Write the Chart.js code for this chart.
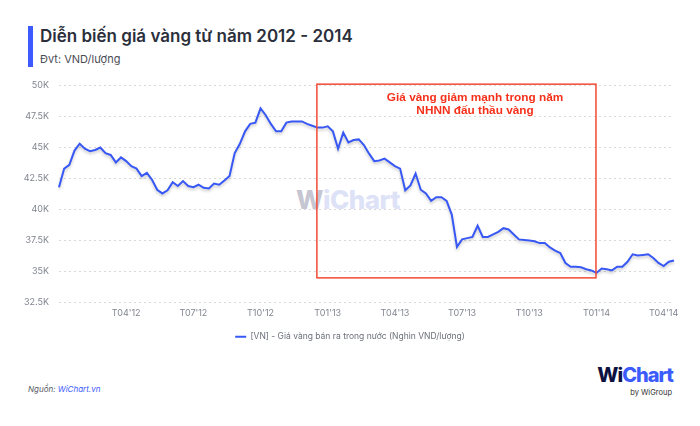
<!DOCTYPE html>
<html lang="vi">
<head>
<meta charset="utf-8">
<script src="https://cdn.jsdelivr.net/npm/chart.js@4.4.1/dist/chart.umd.min.js"></script>
<style>
    body {
        margin: 0;
        width: 700px;
        height: 426px;
        background: #ffffff;
        position: relative;
        overflow: hidden;
        font-family: Inter, "Noto Sans", sans-serif;
    }
    .abs { position: absolute; }
    #titleBar { left: 28px; top: 26px; width: 5px; height: 41px; background: #3d5afe; }
    #title { left: 40px; top: 26px; font-size: 17px; line-height: 21px; font-weight: 600; color: #2b2f3b; white-space: nowrap; }
    #subtitle { left: 40px; top: 52px; font-size: 11px; line-height: 15px; color: #4a4d55; }
    #watermark { left: 296px; top: 184px; font-size: 26px; line-height: 31px; font-weight: 800; letter-spacing: -0.5px; }
    #watermark .w { color: #c6c6d3; }
    #watermark .c { color: #dde2f7; }
    #chartBox { left: 0; top: 70px; width: 700px; height: 290px; }
    #source { left: 28px; top: 384px; font-size: 8px; line-height: 11px; font-style: italic; color: #555a63; }
    #source span { color: #3b5bfd; }
    #logo { right: 27px; top: 363px; font-size: 20px; line-height: 24px; font-weight: 800; letter-spacing: -1px; }
    #logo .w { color: #0d1240; }
    #logo .c { color: #3b5bfd; }
    #logoSub { right: 28px; top: 388px; font-size: 7.5px; line-height: 10px; color: #333; }
</style>
</head>
<body>
<div id="titleBar" class="abs"></div>
<div id="title" class="abs">Diễn biến giá vàng từ năm 2012 - 2014</div>
<div id="subtitle" class="abs">Đvt: VND/lượng</div>
<div id="watermark" class="abs"><span class="w">W</span><span class="c">iChart</span></div>
<div id="chartBox" class="abs"><canvas id="goldChart"></canvas></div>
<div id="source" class="abs">Nguồn: <span>WiChart.vn</span></div>
<div id="logo" class="abs"><span class="w">Wi</span><span class="c">Chart</span></div>
<div id="logoSub" class="abs">by WiGroup</div>

<script>
// quarter tick labels (first week of each quarter)
const quarterTicks = ["", "T04'12", "T07'12", "T10'12", "T01'13", "T04'13", "T07'13", "T10'13", "T01'14", "T04'14"];

// weekly selling price, thousand VND / lượng
const q1_12 = [41800, 43300, 43600, 44750, 45300, 44900, 44700, 44800, 45000, 44550, 44400, 43800, 44200];
const q2_12 = [43900, 43500, 43300, 42700, 42950, 42400, 41600, 41300, 41550, 42200, 41900, 42300, 41900];
const q3_12 = [41800, 42000, 41750, 41700, 42100, 42000, 42350, 42700, 44550, 45300, 46300, 46900, 47000];
const q4_12 = [48150, 47600, 46900, 46300, 46300, 47000, 47100, 47100, 47100, 46900, 46750, 46600, 46600];
const q1_13 = [46700, 46300, 44900, 46200, 45400, 45600, 45650, 45200, 44500, 43900, 43950, 44100, 43800];
const q2_13 = [43500, 43300, 41550, 41950, 42900, 41600, 41300, 40700, 41000, 41000, 40700, 39600, 37000];
const q3_13 = [37600, 37700, 37800, 38700, 37800, 37800, 38000, 38200, 38500, 38400, 38000, 37600, 37550];
const q4_13 = [37500, 37450, 37300, 37300, 36950, 36700, 36500, 35700, 35400, 35400, 35350, 35200, 35100];
const q1_14 = [34900, 35250, 35200, 35100, 35400, 35400, 35800, 36400, 36300, 36350, 36400, 36100, 35700];
const q2_14 = [35450, 35800, 35900];

const quarters = [q1_12, q2_12, q3_12, q4_12, q1_13, q2_13, q3_13, q4_13, q1_14, q2_14];

const seriesName = "[VN] - Giá vàng bán ra trong nước (Nghìn VND/lượng)";
const noteLines = ["Giá vàng giảm mạnh trong năm", "NHNN đấu thầu vàng"];

// highlighted period: roughly the 2013 auction year (index range on the weekly axis)
const noteBox = { fromIdx: 49.9, toIdx: 103.9, top: 50100, bottom: 34500, textIdx: 80.5 };

const labels = [];
const prices = [];
quarters.forEach((q, qi) => {
    q.forEach((v, wi) => {
        labels.push(wi === 0 ? quarterTicks[qi] : "");
        prices.push(v);
    });
});

// soft shadow under the line
const lineShadow = {
    id: "lineShadow",
    beforeDatasetDraw(chart) {
        const ctx = chart.ctx;
        ctx.save();
        ctx.shadowColor = "rgba(0, 0, 0, 0.22)";
        ctx.shadowBlur = 3;
        ctx.shadowOffsetY = 2;
    },
    afterDatasetDraw(chart) {
        chart.ctx.restore();
    },
};

// red box + caption
const noteBoxPlugin = {
    id: "noteBox",
    afterDatasetsDraw(chart) {
        const { ctx, scales } = chart;
        const x1 = scales.x.getPixelForValue(noteBox.fromIdx);
        const x2 = scales.x.getPixelForValue(noteBox.toIdx);
        const y1 = scales.y.getPixelForValue(noteBox.top);
        const y2 = scales.y.getPixelForValue(noteBox.bottom);

        ctx.save();
        ctx.strokeStyle = "#f24a35";
        ctx.lineWidth = 1.5;
        ctx.strokeRect(x1, y1, x2 - x1, y2 - y1);

        ctx.fillStyle = "#f5301a";
        ctx.font = "bold 11.8px 'Liberation Sans', Arial, sans-serif";
        ctx.textAlign = "center";
        ctx.textBaseline = "middle";
        const tx = scales.x.getPixelForValue(noteBox.textIdx);
        noteLines.forEach((line, i) => {
            ctx.fillText(line, tx, y1 + 13.5 + i * 13.5);
        });
        ctx.restore();
    },
};

const ctx = document.getElementById("goldChart").getContext("2d");

new Chart(ctx, {
    type: "line",
    data: {
        labels: labels,
        datasets: [
            {
                label: seriesName,
                data: prices,
                borderColor: "#3858f5",
                backgroundColor: "#3858f5",
                borderWidth: 2,
                pointRadius: 0,
                tension: 0,
            },
        ],
    },
    options: {
        responsive: true,
        maintainAspectRatio: false,
        animation: false,
        layout: {
            padding: { top: 11.5, right: 0, left: 0, bottom: 9 },
        },
        scales: {
            x: {
                offset: false,
                grid: { display: false, drawTicks: false },
                border: { display: false },
                ticks: {
                    autoSkip: false,
                    maxRotation: 0,
                    padding: 5,
                    color: "#80858f",
                    font: { family: "Inter", size: 9 },
                    callback: (value, index) => labels[index],
                },
            },
            y: {
                min: 32500,
                max: 50000,
                afterFit: scale => {
                    scale.width = 59;
                },
                border: { display: false, dash: [2, 3] },
                grid: { color: "#d9d9d9", drawTicks: false },
                ticks: {
                    stepSize: 2500,
                    padding: 10,
                    color: "#80858f",
                    font: { family: "Inter", size: 9 },
                    callback: v => v / 1000 + "K",
                },
            },
            // empty right-hand spacer so the legend stays centred on the page
            spacer: {
                position: "right",
                grid: { display: false, drawTicks: false },
                border: { display: false },
                ticks: { display: false },
                afterFit: scale => {
                    scale.width = 26;
                },
            },
        },
        plugins: {
            legend: {
                position: "bottom",
                labels: {
                    usePointStyle: true,
                    pointStyle: "line",
                    pointStyleWidth: 11,
                    boxHeight: 8,
                    padding: 9,
                    color: "#6b6f78",
                    font: { family: "Inter", size: 8.5 },
                },
            },
            tooltip: { enabled: false },
        },
    },
    plugins: [lineShadow, noteBoxPlugin],
});
</script>
</body>
</html>
